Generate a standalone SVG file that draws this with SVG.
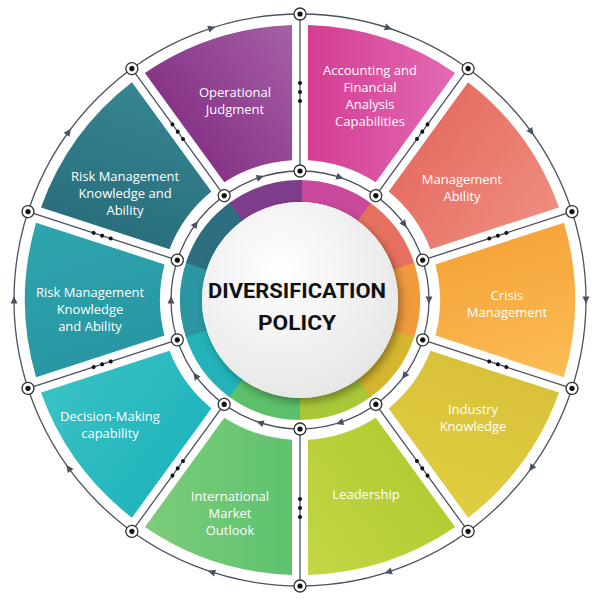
<svg xmlns="http://www.w3.org/2000/svg" xmlns:xlink="http://www.w3.org/1999/xlink" width="600" height="603" viewBox="0 0 600 603">
<style>
.lbl{font-family:"Open Sans","Liberation Sans",sans-serif;font-size:13px;fill:#fff;text-anchor:middle}
.ctr{font-family:Roboto,"Liberation Sans",sans-serif;font-weight:bold;font-size:21px;fill:#111;text-anchor:middle}
.ln{fill:none;stroke:#4a5160;stroke-width:1.3}
.ring{fill:none;stroke-width:22}
</style>
<defs>
<path id="seg" d="M 8,-274.9 A 275 275 0 0 1 155.1,-227.1 L 75.7,-117.8 A 140 140 0 0 0 8,-139.8 Z"/>
<path id="rarc" d="M 0,-109 A 109 109 0 0 1 65.6,-87.05"/>
<path id="arr" d="M-3.5,-3.5 L4,0 L-3.5,3.5 Z" fill="#4a5160"/>
<g id="dot"><circle r="6" fill="#fff" stroke="#333" stroke-width="1.3"/><circle r="2.6" fill="#111"/></g>
<linearGradient id="g0" x1="0" y1="0" x2="1" y2="0"><stop offset="0" stop-color="#d43d92"/><stop offset="1" stop-color="#e26ab3"/></linearGradient>
<linearGradient id="g1" x1="0" y1="0" x2="1" y2="0"><stop offset="0" stop-color="#e66f63"/><stop offset="1" stop-color="#ee8d80"/></linearGradient>
<linearGradient id="g2" x1="0" y1="0" x2="1" y2="0"><stop offset="0" stop-color="#f6a53a"/><stop offset="1" stop-color="#fbbd55"/></linearGradient>
<linearGradient id="g3" x1="0" y1="0" x2="1" y2="0"><stop offset="0" stop-color="#d8c23a"/><stop offset="1" stop-color="#e0cd40"/></linearGradient>
<linearGradient id="g4" x1="0" y1="0" x2="1" y2="0"><stop offset="0" stop-color="#b4cc33"/><stop offset="1" stop-color="#c4d645"/></linearGradient>
<linearGradient id="g5" x1="0" y1="0" x2="1" y2="0"><stop offset="0" stop-color="#5ec26f"/><stop offset="1" stop-color="#7dcc7a"/></linearGradient>
<linearGradient id="g6" x1="0" y1="0" x2="1" y2="0"><stop offset="0" stop-color="#22b5bd"/><stop offset="1" stop-color="#38c2c4"/></linearGradient>
<linearGradient id="g7" x1="0" y1="0" x2="1" y2="0"><stop offset="0" stop-color="#2897a3"/><stop offset="1" stop-color="#2ea6ae"/></linearGradient>
<linearGradient id="g8" x1="0" y1="0" x2="1" y2="0"><stop offset="0" stop-color="#2a6f7d"/><stop offset="1" stop-color="#358590"/></linearGradient>
<linearGradient id="g9" x1="0" y1="0" x2="1" y2="0"><stop offset="0" stop-color="#883488"/><stop offset="1" stop-color="#a560a5"/></linearGradient>
<radialGradient id="wc" cx="0.4" cy="0.35" r="0.7"><stop offset="0" stop-color="#ffffff"/><stop offset="1" stop-color="#e6e6e6"/></radialGradient>
<filter id="sh" x="-20%" y="-20%" width="140%" height="140%"><feDropShadow dx="3" dy="4" stdDeviation="4" flood-opacity="0.35"/></filter>
</defs>
<rect width="600" height="603" fill="#fff"/>
<g id="connectors">
<circle class="ln" cx="300" cy="300" r="286"/>
<circle class="ln" cx="300" cy="300" r="129"/>
<g class="ln">
<line x1="300" y1="171" x2="300" y2="14" transform="rotate(0,300,300)"/>
<line x1="300" y1="171" x2="300" y2="14" transform="rotate(36,300,300)"/>
<line x1="300" y1="171" x2="300" y2="14" transform="rotate(72,300,300)"/>
<line x1="300" y1="171" x2="300" y2="14" transform="rotate(108,300,300)"/>
<line x1="300" y1="171" x2="300" y2="14" transform="rotate(144,300,300)"/>
<line x1="300" y1="171" x2="300" y2="14" transform="rotate(180,300,300)"/>
<line x1="300" y1="171" x2="300" y2="14" transform="rotate(216,300,300)"/>
<line x1="300" y1="171" x2="300" y2="14" transform="rotate(252,300,300)"/>
<line x1="300" y1="171" x2="300" y2="14" transform="rotate(288,300,300)"/>
<line x1="300" y1="171" x2="300" y2="14" transform="rotate(324,300,300)"/>
</g>
</g>
<g id="segments">
<use xlink:href="#seg" fill="url(#g0)" transform="translate(300,300) rotate(0)"/>
<use xlink:href="#seg" fill="url(#g1)" transform="translate(300,300) rotate(36)"/>
<use xlink:href="#seg" fill="url(#g2)" transform="translate(300,300) rotate(72)"/>
<use xlink:href="#seg" fill="url(#g3)" transform="translate(300,300) rotate(108)"/>
<use xlink:href="#seg" fill="url(#g4)" transform="translate(300,300) rotate(144)"/>
<use xlink:href="#seg" fill="url(#g5)" transform="translate(300,300) rotate(180)"/>
<use xlink:href="#seg" fill="url(#g6)" transform="translate(300,300) rotate(216)"/>
<use xlink:href="#seg" fill="url(#g7)" transform="translate(300,300) rotate(252)"/>
<use xlink:href="#seg" fill="url(#g8)" transform="translate(300,300) rotate(288)"/>
<use xlink:href="#seg" fill="url(#g9)" transform="translate(300,300) rotate(324)"/>
</g>
<g id="markers">
<g fill="#111">
<g transform="rotate(0,300,300)"><circle cx="300" cy="83" r="2"/><circle cx="300" cy="92" r="2"/><circle cx="300" cy="101" r="2"/></g>
<g transform="rotate(36,300,300)"><circle cx="300" cy="83" r="2"/><circle cx="300" cy="92" r="2"/><circle cx="300" cy="101" r="2"/></g>
<g transform="rotate(72,300,300)"><circle cx="300" cy="83" r="2"/><circle cx="300" cy="92" r="2"/><circle cx="300" cy="101" r="2"/></g>
<g transform="rotate(108,300,300)"><circle cx="300" cy="83" r="2"/><circle cx="300" cy="92" r="2"/><circle cx="300" cy="101" r="2"/></g>
<g transform="rotate(144,300,300)"><circle cx="300" cy="83" r="2"/><circle cx="300" cy="92" r="2"/><circle cx="300" cy="101" r="2"/></g>
<g transform="rotate(180,300,300)"><circle cx="300" cy="83" r="2"/><circle cx="300" cy="92" r="2"/><circle cx="300" cy="101" r="2"/></g>
<g transform="rotate(216,300,300)"><circle cx="300" cy="83" r="2"/><circle cx="300" cy="92" r="2"/><circle cx="300" cy="101" r="2"/></g>
<g transform="rotate(252,300,300)"><circle cx="300" cy="83" r="2"/><circle cx="300" cy="92" r="2"/><circle cx="300" cy="101" r="2"/></g>
<g transform="rotate(288,300,300)"><circle cx="300" cy="83" r="2"/><circle cx="300" cy="92" r="2"/><circle cx="300" cy="101" r="2"/></g>
<g transform="rotate(324,300,300)"><circle cx="300" cy="83" r="2"/><circle cx="300" cy="92" r="2"/><circle cx="300" cy="101" r="2"/></g>
</g>
<use xlink:href="#arr" transform="rotate(18,300,300) translate(300,14)"/>
<use xlink:href="#arr" transform="rotate(54,300,300) translate(300,14)"/>
<use xlink:href="#arr" transform="rotate(90,300,300) translate(300,14)"/>
<use xlink:href="#arr" transform="rotate(126,300,300) translate(300,14)"/>
<use xlink:href="#arr" transform="rotate(162,300,300) translate(300,14)"/>
<use xlink:href="#arr" transform="rotate(198,300,300) translate(300,14)"/>
<use xlink:href="#arr" transform="rotate(234,300,300) translate(300,14)"/>
<use xlink:href="#arr" transform="rotate(270,300,300) translate(300,14)"/>
<use xlink:href="#arr" transform="rotate(306,300,300) translate(300,14)"/>
<use xlink:href="#arr" transform="rotate(342,300,300) translate(300,14)"/>
<use xlink:href="#arr" transform="rotate(18,300,300) translate(300,171)"/>
<use xlink:href="#arr" transform="rotate(54,300,300) translate(300,171)"/>
<use xlink:href="#arr" transform="rotate(90,300,300) translate(300,171)"/>
<use xlink:href="#arr" transform="rotate(126,300,300) translate(300,171)"/>
<use xlink:href="#arr" transform="rotate(162,300,300) translate(300,171)"/>
<use xlink:href="#arr" transform="rotate(198,300,300) translate(300,171)"/>
<use xlink:href="#arr" transform="rotate(234,300,300) translate(300,171)"/>
<use xlink:href="#arr" transform="rotate(270,300,300) translate(300,171)"/>
<use xlink:href="#arr" transform="rotate(306,300,300) translate(300,171)"/>
<use xlink:href="#arr" transform="rotate(342,300,300) translate(300,171)"/>
<use xlink:href="#dot" transform="rotate(0,300,300) translate(300,14)"/>
<use xlink:href="#dot" transform="rotate(36,300,300) translate(300,14)"/>
<use xlink:href="#dot" transform="rotate(72,300,300) translate(300,14)"/>
<use xlink:href="#dot" transform="rotate(108,300,300) translate(300,14)"/>
<use xlink:href="#dot" transform="rotate(144,300,300) translate(300,14)"/>
<use xlink:href="#dot" transform="rotate(180,300,300) translate(300,14)"/>
<use xlink:href="#dot" transform="rotate(216,300,300) translate(300,14)"/>
<use xlink:href="#dot" transform="rotate(252,300,300) translate(300,14)"/>
<use xlink:href="#dot" transform="rotate(288,300,300) translate(300,14)"/>
<use xlink:href="#dot" transform="rotate(324,300,300) translate(300,14)"/>
<use xlink:href="#dot" transform="rotate(0,300,300) translate(300,171)"/>
<use xlink:href="#dot" transform="rotate(36,300,300) translate(300,171)"/>
<use xlink:href="#dot" transform="rotate(72,300,300) translate(300,171)"/>
<use xlink:href="#dot" transform="rotate(108,300,300) translate(300,171)"/>
<use xlink:href="#dot" transform="rotate(144,300,300) translate(300,171)"/>
<use xlink:href="#dot" transform="rotate(180,300,300) translate(300,171)"/>
<use xlink:href="#dot" transform="rotate(216,300,300) translate(300,171)"/>
<use xlink:href="#dot" transform="rotate(252,300,300) translate(300,171)"/>
<use xlink:href="#dot" transform="rotate(288,300,300) translate(300,171)"/>
<use xlink:href="#dot" transform="rotate(324,300,300) translate(300,171)"/>
</g>
<g id="hub">
<use xlink:href="#rarc" class="ring" stroke="#c94a9c" transform="translate(300,300) rotate(0)"/>
<use xlink:href="#rarc" class="ring" stroke="#e6705f" transform="translate(300,300) rotate(36)"/>
<use xlink:href="#rarc" class="ring" stroke="#f09a3c" transform="translate(300,300) rotate(72)"/>
<use xlink:href="#rarc" class="ring" stroke="#d6b62e" transform="translate(300,300) rotate(108)"/>
<use xlink:href="#rarc" class="ring" stroke="#a8c838" transform="translate(300,300) rotate(144)"/>
<use xlink:href="#rarc" class="ring" stroke="#5cbf6a" transform="translate(300,300) rotate(180)"/>
<use xlink:href="#rarc" class="ring" stroke="#22b2b8" transform="translate(300,300) rotate(216)"/>
<use xlink:href="#rarc" class="ring" stroke="#2a96a2" transform="translate(300,300) rotate(252)"/>
<use xlink:href="#rarc" class="ring" stroke="#2d6e80" transform="translate(300,300) rotate(288)"/>
<use xlink:href="#rarc" class="ring" stroke="#7e3c8c" transform="translate(300,300) rotate(324)"/>
<circle cx="300" cy="300" r="98" fill="url(#wc)" filter="url(#sh)"/>
<text class="ctr" x="297" y="298" textLength="178" lengthAdjust="spacingAndGlyphs">DIVERSIFICATION</text>
<text class="ctr" x="297" y="330" textLength="78" lengthAdjust="spacingAndGlyphs">POLICY</text>
</g>
<g id="n0"><text class="lbl" x="370" y="75">Accounting and</text><text class="lbl" x="370" y="92">Financial</text><text class="lbl" x="370" y="109">Analysis</text><text class="lbl" x="370" y="126">Capabilities</text></g>
<g id="n1"><text class="lbl" x="462" y="184">Management</text><text class="lbl" x="462" y="201">Ability</text></g>
<g id="n2"><text class="lbl" x="507" y="300">Crisis</text><text class="lbl" x="507" y="317">Management</text></g>
<g id="n3"><text class="lbl" x="473" y="414">Industry</text><text class="lbl" x="473" y="431">Knowledge</text></g>
<g id="n4"><text class="lbl" x="366" y="499">Leadership</text></g>
<g id="n5"><text class="lbl" x="230" y="501">International</text><text class="lbl" x="230" y="518">Market</text><text class="lbl" x="230" y="535">Outlook</text></g>
<g id="n6"><text class="lbl" x="110" y="421">Decision-Making</text><text class="lbl" x="110" y="438">capability</text></g>
<g id="n7"><text class="lbl" x="90" y="297">Risk Management</text><text class="lbl" x="90" y="314">Knowledge</text><text class="lbl" x="90" y="331">and Ability</text></g>
<g id="n8"><text class="lbl" x="125" y="181">Risk Management</text><text class="lbl" x="125" y="198">Knowledge and</text><text class="lbl" x="125" y="215">Ability</text></g>
<g id="n9"><text class="lbl" x="235" y="97">Operational</text><text class="lbl" x="235" y="114">Judgment</text></g>
</svg>
